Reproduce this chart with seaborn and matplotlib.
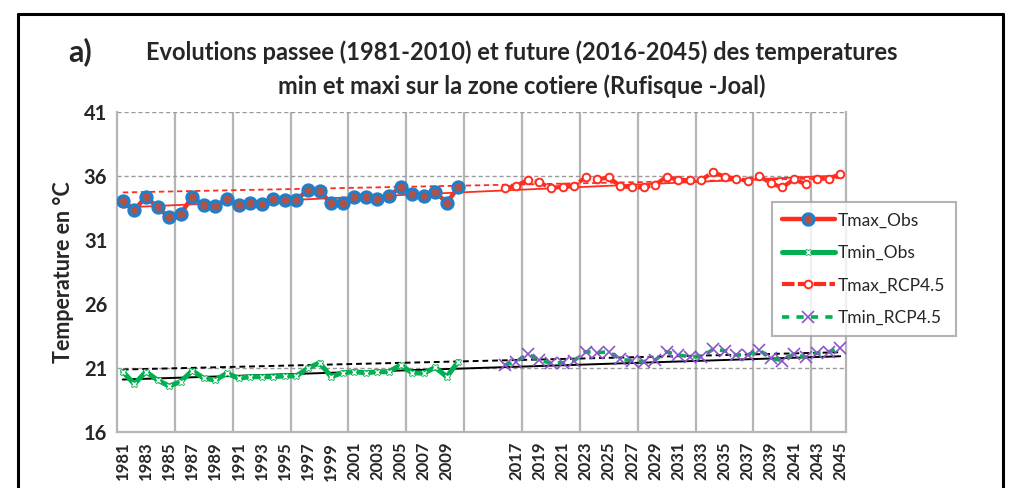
import numpy as np
import matplotlib
matplotlib.use("Agg")
import matplotlib.pyplot as plt
import seaborn as sns
from matplotlib.lines import Line2D

# ---------------- data ----------------
obs_years = list(range(1981, 2011))
rcp_years = list(range(2016, 2046))

tmax_obs = [34.07, 33.34, 34.38, 33.55, 32.77, 33.03, 34.38, 33.71, 33.66, 34.18,
            33.73, 33.91, 33.79, 34.18, 34.13, 34.13, 34.91, 34.85, 33.87, 33.91,
            34.38, 34.34, 34.18, 34.44, 35.12, 34.59, 34.44, 34.75, 33.91, 35.12]
tmin_obs = [20.71, 19.75, 20.71, 20.06, 19.59, 19.93, 20.79, 20.20, 20.06, 20.59,
            20.20, 20.32, 20.32, 20.32, 20.38, 20.38, 20.98, 21.41, 20.32, 20.63,
            20.71, 20.63, 20.71, 20.71, 21.23, 20.63, 20.59, 21.05, 20.32, 21.50]
tmax_rcp = [35.03, 35.24, 35.69, 35.50, 35.06, 35.16, 35.24, 35.89, 35.74, 35.89,
            35.22, 35.11, 35.11, 35.30, 35.95, 35.69, 35.69, 35.69, 36.31, 35.95,
            35.79, 35.63, 36.00, 35.43, 35.11, 35.74, 35.37, 35.79, 35.79, 36.15]
tmin_rcp = [21.23, 21.50, 22.09, 21.63, 21.37, 21.41, 21.57, 22.27, 22.20, 22.27,
            21.68, 21.57, 21.50, 21.63, 22.27, 22.02, 21.88, 21.88, 22.45, 22.35,
            22.02, 22.02, 22.41, 21.76, 21.57, 22.09, 21.83, 22.15, 22.27, 22.54]

categories = [str(y) for y in obs_years] + ["", "", ""] + [str(y) for y in rcp_years]
tick_labels = categories[::2]
yticks = [16, 21, 26, 31, 36, 41]

title = ("Evolutions passee (1981-2010) et future (2016-2045) des temperatures\n"
         "min et maxi sur la zone cotiere (Rufisque -Joal)")
ylabel = "Temperature en °C"

# ---------------- style ----------------
sns.set_theme(style="white")
plt.rcParams['font.family'] = ['Lato', 'DejaVu Sans']

RED = '#ff2d1f'
GREEN = '#00b050'
BLUE = '#1f7fc8'
PURPLE = '#8a55c8'

W, H = 1022, 488
fig = plt.figure(figsize=(W / 100, H / 100), dpi=100)
fig.patch.set_facecolor('white')
ax = fig.add_axes([117 / W, 1 - 432 / H, (846 - 117) / W, (432 - 112) / H])

pos = {c: i for i, c in enumerate(categories) if c}
x_obs = np.array([pos[str(y)] for y in obs_years])
x_rcp = np.array([pos[str(y)] for y in rcp_years])
x_full = np.arange(len(categories))

# grid / reference lines
for k in range(1, 13):
    ax.axvline(-0.5 + 5 * k, color='#b5b5b5', lw=1.6, zorder=0)
for yv in (21, 36, 41):
    ax.axhline(yv, color='#9a9a9a', lw=1.0, ls=(0, (3, 2)), zorder=0)

# trend lines (linear fits, drawn across the whole category axis)
def trend(xs, ys):
    c = np.polyfit(xs, ys, 1)
    return np.polyval(c, x_full)

sns.lineplot(x=x_full, y=trend(x_obs, tmax_obs), ax=ax, color=RED, lw=1.3, zorder=2)
sns.lineplot(x=x_full, y=trend(x_rcp, tmax_rcp), ax=ax, color=RED, lw=1.3,
             ls=(0, (3, 2)), zorder=2)
sns.lineplot(x=x_full, y=trend(x_obs, tmin_obs), ax=ax, color='black', lw=1.4, zorder=2)
sns.lineplot(x=x_full, y=trend(x_rcp, tmin_rcp), ax=ax, color='black', lw=1.4,
             ls=(0, (3, 2)), zorder=2)

# data series
sns.lineplot(x=x_obs, y=tmax_obs, ax=ax, color=RED, lw=3.2, marker='o', markersize=8,
             markerfacecolor='#b0524a', markeredgecolor=BLUE, markeredgewidth=2.3,
             label='Tmax_Obs', zorder=4)
sns.lineplot(x=x_obs, y=tmin_obs, ax=ax, color=GREEN, lw=3.6, marker='X', markersize=5,
             markerfacecolor='white', markeredgecolor=GREEN, markeredgewidth=0.6,
             label='Tmin_Obs', zorder=4)
sns.lineplot(x=x_rcp, y=tmax_rcp, ax=ax, color=RED, lw=3.0, ls=(0, (3, 0.8)), marker='o',
             markersize=5.5, markerfacecolor='white', markeredgecolor=RED,
             markeredgewidth=1.4, label='Tmax_RCP4.5', zorder=4)
sns.lineplot(x=x_rcp, y=tmin_rcp, ax=ax, color=GREEN, lw=2.6, ls=(0, (2, 2)), marker='x',
             markersize=8, markeredgecolor=PURPLE, markeredgewidth=1.2,
             label='Tmin_RCP4.5', zorder=4)

# axes
ax.set_xlim(-0.5, len(categories) - 0.5)
ax.set_ylim(16, 41)
ax.set_yticks(yticks)
ax.set_yticklabels([str(v) for v in yticks], fontsize=14.5, fontweight='bold')
ax.set_xticks(x_full[::2])
ax.set_xticklabels(tick_labels, rotation=90, fontsize=12, fontweight='bold')
ax.tick_params(axis='both', length=0, pad=7)
ax.set_xlabel('')
ax.set_ylabel(ylabel, fontsize=15.5, fontweight='bold', labelpad=7)
for s in ('left', 'right', 'bottom'):
    ax.spines[s].set_color('#b5b5b5')
    ax.spines[s].set_linewidth(1.6)
ax.spines['top'].set_visible(False)

# legend
handles, labels = ax.get_legend_handles_labels()
if ax.legend_:
    ax.legend_.remove()
leg = fig.legend(handles, labels, loc='upper left',
                 bbox_to_anchor=(772 / W, 1 - 202 / H), fontsize=12.5,
                 frameon=True, fancybox=False, edgecolor='#a0a0a0',
                 handlelength=3.0, labelspacing=0.95, borderpad=0.6,
                 handletextpad=0.2, borderaxespad=0)
leg.get_frame().set_linewidth(1.5)
leg.get_frame().set_facecolor('white')
leg.set_zorder(10)

# titles
fig.text(522 / W, 1 - 52 / H, title.split('\n')[0], ha='center', va='center',
         fontsize=17, fontweight='bold')
fig.text(522 / W, 1 - 86 / H, title.split('\n')[1], ha='center', va='center',
         fontsize=17, fontweight='bold')
fig.text(68 / W, 1 - 52 / H, 'a)', ha='left', va='center', fontsize=22, fontweight='bold')

# outer frame
fr = dict(transform=fig.transFigure, color='black', lw=2.2)
fig.add_artist(Line2D([18 / W, 18 / W], [0, 1 - 14 / H], **fr))
fig.add_artist(Line2D([18 / W, 1003 / W], [1 - 14 / H, 1 - 14 / H], **fr))
fig.add_artist(Line2D([1003 / W, 1003 / W], [0, 1 - 14 / H], **fr))

fig.savefig('out.png', dpi=100, facecolor='white')
